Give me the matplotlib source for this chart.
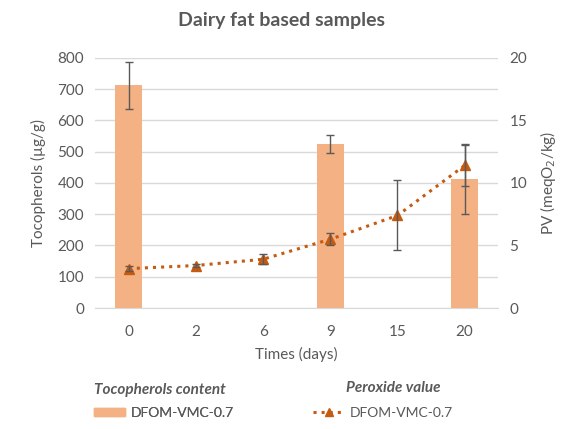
import numpy as np
import matplotlib.pyplot as plt
from matplotlib.lines import Line2D
from matplotlib.patches import Patch

days = ["0", "2", "6", "9", "15", "20"]
toco = [712, np.nan, np.nan, 525, np.nan, 414]
toco_err = [74, 0, 0, 28, 0, 112]
pv = [3.15, 3.4, 3.9, 5.5, 7.4, 11.4]
pv_err = [0.2, 0.15, 0.4, 0.5, 2.8, 1.65]

bar_color = "#F4B183"
line_color = "#C55A11"
text_color = "#595959"
grid_color = "#D9D9D9"

plt.rcParams['font.family'] = ['Lato', 'DejaVu Sans']

fig = plt.figure(figsize=(5.63, 4.29), dpi=100)
ax = fig.add_axes([0.169, 0.282, 0.716, 0.583])
x = np.arange(len(days))

ax.bar(x, toco, width=0.4, color=bar_color, zorder=2)
ax.errorbar(x, toco, yerr=toco_err, fmt='none', ecolor=text_color,
            elinewidth=1, capsize=3, capthick=1, zorder=3)
ax.set_ylim(0, 800)
ax.set_yticks(range(0, 801, 100))
ax.set_xlim(-0.5, len(days) - 0.5)
ax.set_xticks(x)
ax.set_xticklabels(days)
ax.yaxis.grid(True, color=grid_color, linewidth=1)
ax.set_axisbelow(True)

ax2 = ax.twinx()
ax2.plot(x, pv, linestyle=':', linewidth=2.2, color=line_color,
         marker='^', markersize=7, zorder=4)
ax2.errorbar(x, pv, yerr=pv_err, fmt='none', ecolor=text_color,
             elinewidth=1, capsize=3, capthick=1, zorder=5)
ax2.set_ylim(0, 20)
ax2.set_yticks(range(0, 21, 5))

for a in (ax, ax2):
    for s in a.spines.values():
        s.set_visible(False)
    a.tick_params(length=0, colors=text_color, labelsize=11, pad=8)
ax.tick_params(axis='x', pad=12)
ax.spines['bottom'].set_visible(True)
ax.spines['bottom'].set_color(grid_color)

ax.set_ylabel("Tocopherols (µg/g)", color=text_color, fontsize=11, labelpad=8)
ax2.set_ylabel("PV (meqO$_2$/kg)", color=text_color, fontsize=11, labelpad=8)
ax.set_xlabel("Times (days)", color=text_color, fontsize=11, labelpad=6)

fig.text(0.5, 0.952, "Dairy fat based samples", ha='center', va='center',
         fontsize=14, fontweight='bold', color=text_color)

# legend group titles
fig.text(160 / 563, 1 - 390 / 429, "Tocopherols content", ha='center', va='center',
         fontsize=11, fontweight='bold', fontstyle='italic', color=text_color)
fig.text(393 / 563, 1 - 388 / 429, "Peroxide value", ha='center', va='center',
         fontsize=11, fontweight='bold', fontstyle='italic', color=text_color)

h1 = [Patch(color=bar_color)]
leg1 = fig.legend(h1, ["DFOM-VMC-0.7"], loc='center', bbox_to_anchor=(164 / 563, 0.037),
                  frameon=False, fontsize=10, handlelength=2.2, handleheight=0.5,
                  handletextpad=0.4, labelcolor=text_color)

h2 = [Line2D([], [], linestyle=':', linewidth=2.2, color=line_color,
             marker='^', markersize=6)]
leg2 = fig.legend(h2, ["DFOM-VMC-0.7"], loc='center', bbox_to_anchor=(383 / 563, 0.037),
                  frameon=False, fontsize=10, handlelength=2.2,
                  handletextpad=0.4, labelcolor=text_color)
fig.add_artist(leg1)

fig.savefig("out.png", dpi=100, facecolor='white')
